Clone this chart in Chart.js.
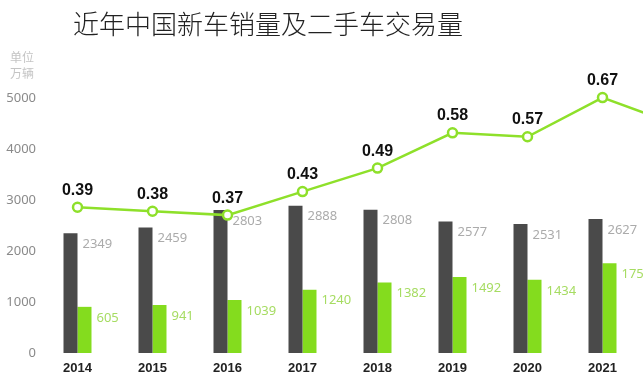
<!DOCTYPE html>
<html>
<head>
<meta charset="utf-8">
<script src="https://cdn.jsdelivr.net/npm/chart.js@4/dist/chart.umd.min.js"></script>
<style>
  html, body { margin: 0; padding: 0; background: #fff; overflow: hidden; width: 643px; height: 375px; }
  #wrap { position: relative; width: 643px; height: 375px; overflow: hidden; }
  canvas { position: absolute; left: 0; top: 0; }
  .title { position: absolute; left: 73px; top: 8px; font-family: "Noto Sans CJK SC", "Noto Sans", sans-serif; font-weight: 300; font-size: 26px; line-height: 30px; color: #222; white-space: nowrap; }
  .unit { position: absolute; left: 10px; font-family: "Noto Sans CJK SC", sans-serif; font-size: 12px; line-height: 14px; color: #c4c4c4; }
</style>
</head>
<body>
<div id="wrap">
  <canvas id="c" width="730" height="375"></canvas>
  <div class="title">近年中国新车销量及二手车交易量</div>
  <div class="unit" style="top:50px">单位</div>
  <div class="unit" style="top:66px">万辆</div>
</div>
<script>
// Categories (the last one is cut off by the picture's right edge)
const years = ['2014', '2015', '2016', '2017', '2018', '2019', '2020', '2021', '2022'];
// New car sales, 10k units (printed numbers)
const newCarSales = [2349, 2459, 2803, 2888, 2808, 2577, 2531, 2627, 2686];
// Used car trades: printed numbers and drawn bar heights
const usedCarLabels = ['605', '941', '1039', '1240', '1382', '1492', '1434', '1758', '1603'];
const usedCarBars = [905, 941, 1039, 1240, 1382, 1492, 1434, 1758, 1603];
// Ratio line
const ratio = [0.39, 0.38, 0.37, 0.43, 0.49, 0.58, 0.57, 0.67, 0.60];
const ratioLabels = ['0.39', '0.38', '0.37', '0.43', '0.49', '0.58', '0.57', '0.67', '0.60'];
// Left axis ticks
const yTicks = [0, 1000, 2000, 3000, 4000, 5000];

const DARK = '#4a4a4a';
const GREEN = '#84dc1e';
const LINE = '#8ee02a';

const labelPlugin = {
  id: 'valueLabels',
  afterDatasetsDraw(chart) {
    const ctx = chart.ctx;
    const mNew = chart.getDatasetMeta(0);
    const mUsed = chart.getDatasetMeta(1);
    const mRatio = chart.getDatasetMeta(2);
    ctx.save();
    ctx.textBaseline = 'middle';
    years.forEach((y, i) => {
      const b0 = mNew.data[i];
      ctx.font = '13px "Noto Sans", sans-serif';
      ctx.fillStyle = '#ababab';
      ctx.textAlign = 'left';
      ctx.fillText(String(newCarSales[i]), b0.x + b0.width / 2 + 5, b0.y + 11);
      const b1 = mUsed.data[i];
      ctx.fillStyle = '#a6dc62';
      ctx.fillText(usedCarLabels[i], b1.x + b1.width / 2 + 5, b1.y + 11);
      const p = mRatio.data[i];
      ctx.font = 'bold 16px "Liberation Sans", sans-serif';
      ctx.fillStyle = '#111';
      ctx.textAlign = 'center';
      ctx.fillText(ratioLabels[i], p.x, p.y - 17);
    });
    ctx.restore();
  }
};

new Chart(document.getElementById('c'), {
  data: {
    labels: years,
    datasets: [
      { type: 'bar', label: '新车销量', data: newCarSales, backgroundColor: DARK,
        categoryPercentage: 28 / 75, barPercentage: 1, order: 2, yAxisID: 'y' },
      { type: 'bar', label: '二手车交易量', data: usedCarBars, backgroundColor: GREEN,
        categoryPercentage: 28 / 75, barPercentage: 1, order: 2, yAxisID: 'y' },
      { type: 'line', label: '比例', data: ratio, borderColor: LINE, borderWidth: 2.5,
        pointRadius: 4.5, pointBorderWidth: 2.5, pointBackgroundColor: '#fff', pointBorderColor: LINE,
        tension: 0, clip: false, order: 0, yAxisID: 'y2' }
    ]
  },
  options: {
    responsive: false,
    animation: false,
    devicePixelRatio: 1,
    layout: { padding: { top: 98, left: 0, right: 15, bottom: 0 } },
    plugins: { legend: { display: false }, tooltip: { enabled: false }, title: { display: false } },
    scales: {
      x: {
        offset: true,
        grid: { display: false, drawTicks: false },
        border: { display: false },
        ticks: { color: '#222', font: { family: 'Liberation Sans', size: 13, weight: 'bold' }, padding: 8, maxRotation: 0, autoSkip: false },
        afterFit: (s) => { s.height = 22; }
      },
      y: {
        min: 0, max: 5000,
        grid: { display: false, drawTicks: false },
        border: { display: false },
        afterBuildTicks: (s) => { s.ticks = yTicks.map(v => ({ value: v })); },
        ticks: { color: '#8a8a8a', font: { family: 'Noto Sans', size: 13 }, padding: 4, callback: (v) => String(v) },
        afterFit: (s) => { s.width = 40; }
      },
      y2: {
        display: false,
        min: 0.018, max: 0.669
      }
    }
  },
  plugins: [labelPlugin]
});
</script>
</body>
</html>
